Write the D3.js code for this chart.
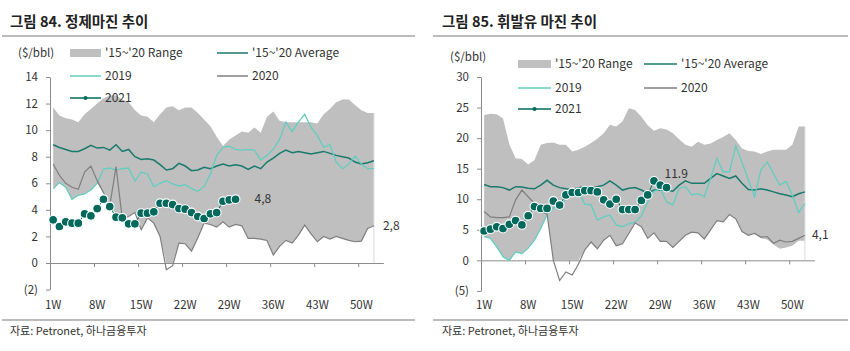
<!DOCTYPE html>
<html>
<head>
<meta charset="utf-8">
<script src="https://cdn.jsdelivr.net/npm/d3@7"></script>
<style>
body { margin: 0; background: #fff; }
text { font-family: "Noto Sans CJK KR", "Noto Sans", sans-serif; fill: #333; }
</style>
</head>
<body>
<svg id="chart" width="850" height="351"></svg>
<script>
// categories / tick labels
const labelWeeks = [1, 8, 15, 22, 29, 36, 43, 50];
const weekLabels = ["1W", "8W", "15W", "22W", "29W", "36W", "43W", "50W"];
const legendNames = ["'15~'20 Range", "'15~'20 Average", "2019", "2020", "2021"];

// 그림 84 - 정제마진 ($/bbl), weeks 1..52 (2021: weeks 1..30)
const refineUpper = [11.7, 11.1, 10.9, 10.8, 10.6, 11.2, 11.6, 12.0, 12.4, 12.6,
  12.6, 12.3, 12.1, 11.5, 11.1, 11.0, 10.6, 11.2, 11.7, 11.8,
  11.5, 11.7, 11.7, 11.3, 10.8, 10.3, 9.5, 8.8, 9.3, 9.6,
  9.9, 9.8, 10.2, 9.8, 11.0, 11.4, 10.7, 10.6, 10.6, 10.6,
  10.6, 10.6, 10.5, 11.2, 11.6, 12.1, 12.3, 12.3, 11.9, 11.5,
  11.3, 11.3];
const refineLower = [5.6, 6.05, 5.7, 4.8, 5.1, 5.2, 5.5, 6.0, 5.3, 4.3,
  3.7, 3.3, 3.5, 3.8, 2.5, 3.4, 3.0, 2.0, -0.5, -0.2,
  1.5, 1.45, 0.9, 1.9, 3.0, 2.9, 2.7, 3.1, 2.7, 2.9,
  2.8, 1.85, 1.85, 1.8, 1.7, 0.6, 1.25, 1.7, 1.5, 2.1,
  2.85, 2.2, 1.6, 2.0, 1.8, 2.0, 1.85, 1.7, 1.6, 1.65,
  2.6, 2.8];
const refineAvg = [8.9, 8.7, 8.55, 8.4, 8.4, 8.6, 8.85, 8.65, 8.7, 8.5,
  8.9, 8.4, 8.55, 8.0, 7.8, 7.85, 7.75, 7.4, 7.0, 7.1,
  7.5, 7.3, 6.95, 7.0, 7.2, 7.1, 7.3, 7.45, 7.3, 7.4,
  7.3, 7.05, 7.3, 7.1, 7.6, 7.9, 8.25, 8.5, 8.3, 8.4,
  8.3, 8.2, 8.3, 8.4, 8.25, 8.1, 8.0, 7.9, 7.6, 7.45,
  7.55, 7.7];
const refine2019 = [5.6, 6.05, 5.7, 4.8, 5.1, 5.2, 5.5, 6.0, 7.05, 7.15,
  7.0, 7.1, 7.15, 6.15, 6.85, 6.7, 5.75, 6.0, 6.2, 5.95,
  5.8, 5.9, 5.6, 5.4, 5.75, 6.7, 8.1, 8.7, 8.8, 8.55,
  8.5, 8.55, 8.5, 7.75, 8.1, 8.55, 9.3, 10.6, 9.9, 10.6,
  11.2, 10.2, 9.6, 8.7, 8.9, 7.6, 7.1, 7.45, 8.05, 7.45,
  7.1, 7.1];
const refine2020 = [7.45, 6.6, 6.0, 5.7, 5.55, 6.85, 7.3, 6.2, 5.3, 4.3,
  7.25, 3.3, 3.5, 3.8, 2.5, 3.4, 3.0, 2.0, -0.5, -0.2,
  1.5, 1.45, 0.9, 1.9, 3.0, 2.9, 2.7, 3.1, 2.7, 2.9,
  2.8, 1.85, 1.85, 1.8, 1.7, 0.6, 1.25, 1.7, 1.5, 2.1,
  2.85, 2.2, 1.6, 2.0, 1.8, 2.0, 1.85, 1.7, 1.6, 1.65,
  2.6, 2.8];
const refine2021 = [3.25, 2.75, 3.1, 3.0, 3.0, 3.7, 3.55, 4.1, 4.8, 4.25,
  3.45, 3.4, 2.95, 2.95, 3.75, 3.75, 3.85, 4.5, 4.5, 4.4,
  4.1, 4.05, 3.8, 3.5, 3.35, 3.7, 3.8, 4.65, 4.75, 4.8];

// 그림 85 - 휘발유 마진 ($/bbl)
const gasUpper = [23.8, 24.0, 23.9, 23.2, 19.0, 16.7, 16.6, 15.7, 16.4, 18.9,
  19.2, 19.3, 18.9, 18.9, 17.8, 18.1, 18.6, 19.2, 19.9, 20.8,
  22.2, 21.9, 22.7, 24.9, 24.6, 23.5, 22.1, 21.2, 21.6, 21.4,
  20.8, 19.8, 18.9, 18.6, 19.4, 18.9, 19.1, 19.7, 20.2, 20.8,
  19.7, 18.3, 17.9, 17.8, 17.4, 17.8, 18.1, 18.1, 18.1, 18.9,
  21.9, 21.9];
const gasLower = [3.9, 3.6, 2.2, 0.6, 0.0, 1.4, 1.1, 2.0, 3.3, 5.2,
  7.5, 0.0, -3.3, -1.9, -2.4, -0.6, 1.7, 3.0, 1.9, 3.3,
  4.1, 2.4, 2.7, 4.4, 6.1, 5.5, 3.6, 4.5, 3.1, 3.1,
  2.1, 3.1, 4.1, 4.6, 4.5, 3.5, 5.0, 6.5, 6.3, 7.5,
  6.8, 4.7, 4.1, 4.4, 3.6, 3.4, 2.6, 1.9, 2.1, 2.4,
  3.2, 3.2];
const gasAvg = [12.4, 12.05, 12.05, 11.9, 11.5, 12.05, 12.0, 11.8, 11.7, 12.3,
  13.1, 12.3, 11.9, 11.7, 11.6, 11.9, 12.05, 11.8, 12.05, 12.3,
  13.0, 12.3, 11.5, 11.8, 11.9, 11.5, 11.0, 11.5, 11.5, 11.5,
  11.3, 12.3, 13.0, 12.6, 12.6, 12.6, 13.4, 14.2, 13.8, 13.4,
  13.8, 12.6, 11.6, 11.5, 11.7, 11.5, 11.2, 10.9, 10.7, 10.4,
  10.9, 11.2];
const gas2019 = [3.9, 3.6, 2.2, 0.6, 0.0, 1.4, 1.1, 2.0, 3.3, 5.2,
  7.5, 8.6, 8.9, 10.0, 11.2, 11.2, 9.2, 9.1, 6.6, 7.1,
  7.4, 5.8, 5.5, 6.0, 6.2, 7.3, 9.5, 11.3, 11.7, 9.6,
  9.05, 11.8, 12.05, 10.7, 10.9, 10.4, 13.4, 16.7, 14.5, 14.5,
  18.7, 16.0, 13.2, 10.4, 14.8, 16.1, 14.2, 12.3, 12.9, 10.7,
  7.8, 9.3];
const gas2020 = [8.0, 7.1, 7.0, 7.0, 7.1, 9.9, 11.5, 10.4, 9.3, 8.0,
  7.6, 0.0, -3.3, -1.9, -2.4, -0.6, 1.7, 3.0, 1.9, 3.3,
  4.1, 2.4, 2.7, 4.4, 6.1, 5.5, 3.6, 4.5, 3.1, 3.1,
  2.1, 3.1, 4.1, 4.6, 4.5, 3.5, 5.0, 6.5, 6.3, 7.5,
  6.8, 4.7, 4.1, 4.4, 3.8, 3.9, 2.8, 3.3, 3.0, 3.1,
  3.6, 4.1];
const gas2021 = [4.8, 5.1, 5.5, 5.2, 5.9, 6.5, 5.8, 7.3, 8.8, 8.5,
  8.5, 9.7, 9.05, 10.7, 11.1, 11.1, 11.4, 11.4, 11.2, 9.9,
  9.2, 10.0, 8.3, 8.3, 8.3, 9.8, 10.7, 13.0, 12.3, 11.9];

const colors = {
  range: "#bfbfbf",
  avg: "#1a7a6c",
  y2019: "#63cdbf",
  y2020: "#7f7f7f",
  y2021: "#00695c",
  axis: "#8c8c8c",
  rule: "#a6a6a6"
};

const svg = d3.select("#chart");

const panels = [
  {
    title: "그림 84.  정제마진 추이",
    left: 2, right: 415, titleX: 10,
    x0: 50, bw: 6.29,
    yMin: -2, yMax: 14, yBottom: 289.6, yTop: 77,
    yTicks: [-2, 0, 2, 4, 6, 8, 10, 12, 14],
    unitX: 18, unitY: 53,
    legendRows: [53, 76, 98], legendCols: [70, 217], symW: 31,
    upper: refineUpper, lower: refineLower, avg: refineAvg,
    s2019: refine2019, s2020: refine2020, s2021: refine2021,
    lastLabel: { text: "4,8", dx: 19, dy: 0 },
    endLabel: { text: "2,8", dx: 9, series: "lower" }
  },
  {
    title: "그림 85. 휘발유 마진 추이",
    left: 433, right: 848, titleX: 442,
    x0: 481, bw: 6.29,
    yMin: -5, yMax: 30, yBottom: 290.9, yTop: 77,
    yTicks: [-5, 0, 5, 10, 15, 20, 25, 30],
    unitX: 450, unitY: 57,
    legendRows: [64, 88, 109], legendCols: [518, 644], symW: 33,
    upper: gasUpper, lower: gasLower, avg: gasAvg,
    s2019: gas2019, s2020: gas2020, s2021: gas2021,
    lastLabel: { text: "11.9", dx: -2, dy: -14 },
    endLabel: { text: "4,1", dx: 7, series: "s2020" }
  }
];

panels.forEach(drawPanel);

function drawPanel(p) {
  const g = svg.append("g");
  const x = d3.scaleLinear().domain([0, 53]).range([p.x0, p.x0 + 53 * p.bw]);
  const xc = w => x(w - 0.5);
  const y = d3.scaleLinear().domain([p.yMin, p.yMax]).range([p.yBottom, p.yTop]);
  const weeks = p.upper.map((d, i) => i + 1);

  // title and rules
  g.append("text")
    .attr("x", p.titleX).attr("y", 27)
    .attr("font-size", 14.5).attr("font-weight", "bold")
    .style("fill", "#222")
    .text(p.title);
  [36, 320].forEach(ry => {
    g.append("line")
      .attr("x1", p.left).attr("x2", p.right)
      .attr("y1", ry).attr("y2", ry)
      .attr("stroke", colors.rule).attr("stroke-width", 1.5);
  });
  g.append("text")
    .attr("x", p.titleX).attr("y", 335)
    .attr("font-size", 11)
    .text("자료: Petronet, 하나금융투자");

  g.append("text")
    .attr("x", p.unitX).attr("y", p.unitY + 4)
    .attr("font-size", 11.5)
    .text("($/bbl)");

  // range area (stacked look: clipped at zero)
  g.append("path")
    .datum(weeks)
    .attr("fill", colors.range)
    .attr("d", d3.area()
      .x(w => xc(w))
      .y0(w => y(Math.max(0, p.lower[w - 1])))
      .y1(w => y(p.upper[w - 1])));

  // light edge at the end of the range
  const lastW = weeks[weeks.length - 1];
  g.append("line")
    .attr("x1", xc(lastW)).attr("x2", xc(lastW))
    .attr("y1", y(p.upper[lastW - 1])).attr("y2", y(0))
    .attr("stroke", "#d9d9d9").attr("stroke-width", 1);

  // y axis
  const yAxis = g.append("g")
    .attr("transform", `translate(${p.x0},0)`)
    .call(d3.axisLeft(y)
      .tickValues(p.yTicks)
      .tickSize(4).tickSizeOuter(0).tickPadding(8)
      .tickFormat(v => v < 0 ? `(${-v})` : v));
  yAxis.attr("font-size", null).attr("font-family", null);
  yAxis.selectAll("path, line").attr("stroke", colors.axis);
  yAxis.selectAll("text").attr("font-size", 11.5).attr("fill", null);

  // x axis on zero line
  const xAxis = g.append("g")
    .attr("transform", `translate(0,${y(0)})`)
    .call(d3.axisBottom(x)
      .tickValues([7, 14, 21, 28, 35, 42, 49])
      .tickSize(4).tickSizeOuter(0)
      .tickFormat(""));
  xAxis.selectAll("path, line").attr("stroke", colors.axis);

  g.selectAll(".xlabel")
    .data(labelWeeks)
    .join("text")
    .attr("class", "xlabel")
    .attr("x", w => xc(w))
    .attr("y", 309)
    .attr("text-anchor", "middle")
    .attr("font-size", 11.5)
    .text((w, i) => weekLabels[i]);

  // lines
  const line = arr => d3.line()
    .x((v, i) => xc(i + 1))
    .y(v => y(v))(arr);

  g.append("path").attr("d", line(p.avg))
    .attr("fill", "none").attr("stroke", colors.avg).attr("stroke-width", 1.5);
  g.append("path").attr("d", line(p.s2019))
    .attr("fill", "none").attr("stroke", colors.y2019).attr("stroke-width", 1.3);
  g.append("path").attr("d", line(p.s2020))
    .attr("fill", "none").attr("stroke", colors.y2020).attr("stroke-width", 1.2);
  g.append("path").attr("d", line(p.s2021))
    .attr("fill", "none").attr("stroke", colors.y2021).attr("stroke-width", 1);

  g.selectAll(".dot")
    .data(p.s2021)
    .join("circle")
    .attr("class", "dot")
    .attr("cx", (v, i) => xc(i + 1))
    .attr("cy", v => y(v))
    .attr("r", 4.4)
    .attr("fill", colors.y2021)
    .attr("stroke", "#fff")
    .attr("stroke-width", 1.1);

  // value labels
  const n = p.s2021.length;
  g.append("text")
    .attr("x", xc(n) + p.lastLabel.dx)
    .attr("y", y(p.s2021[n - 1]) + p.lastLabel.dy + 4)
    .attr("font-size", 12)
    .text(p.lastLabel.text);
  const endSeries = p[p.endLabel.series];
  g.append("text")
    .attr("x", xc(lastW) + p.endLabel.dx)
    .attr("y", y(endSeries[lastW - 1]) + 4)
    .attr("font-size", 12)
    .text(p.endLabel.text);

  // legend
  const [c1, c2] = p.legendCols;
  const [r1, r2, r3] = p.legendRows;
  const items = [
    { name: legendNames[0], cx: c1, cy: r1, kind: "rect", color: colors.range },
    { name: legendNames[1], cx: c2, cy: r1, kind: "line", color: colors.avg },
    { name: legendNames[2], cx: c1, cy: r2, kind: "line", color: colors.y2019 },
    { name: legendNames[3], cx: c2, cy: r2, kind: "line", color: colors.y2020 },
    { name: legendNames[4], cx: c1, cy: r3, kind: "dot", color: colors.y2021 }
  ];
  items.forEach(it => {
    if (it.kind === "rect") {
      g.append("rect")
        .attr("x", it.cx).attr("y", it.cy - 4)
        .attr("width", p.symW).attr("height", 8)
        .attr("fill", it.color);
    } else {
      g.append("line")
        .attr("x1", it.cx).attr("x2", it.cx + p.symW)
        .attr("y1", it.cy).attr("y2", it.cy)
        .attr("stroke", it.color).attr("stroke-width", 1.5);
      if (it.kind === "dot") {
        g.append("circle")
          .attr("cx", it.cx + p.symW / 2).attr("cy", it.cy)
          .attr("r", 2).attr("fill", it.color);
      }
    }
    g.append("text")
      .attr("x", it.cx + p.symW + 4)
      .attr("y", it.cy + 4)
      .attr("font-size", 12)
      .text(it.name);
  });
}
</script>
</body>
</html>
